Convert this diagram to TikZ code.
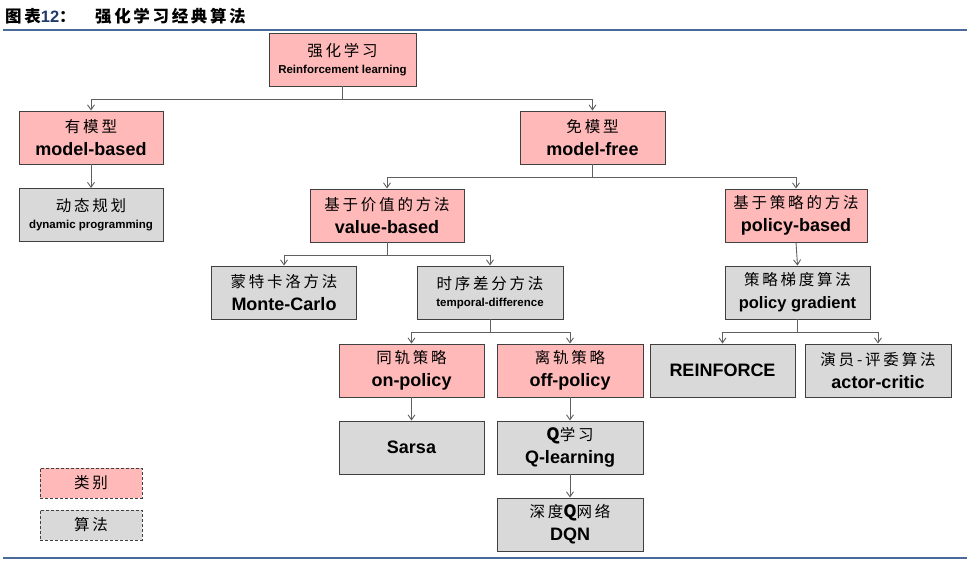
\documentclass[tikz,border=0pt]{standalone}
\usepackage{fontspec}
\setmainfont{Liberation Sans}
\newfontfamily\cjk[LetterSpace=18]{Noto Sans CJK SC}
\newfontfamily\cjkt[LetterSpace=16]{Noto Sans CJK SC}
\newfontfamily\cjkn{Noto Sans CJK SC}
\usetikzlibrary{arrows.meta}
\definecolor{pinkfill}{HTML}{FFB9B9}
\definecolor{grayfill}{HTML}{D9D9D9}
\definecolor{boxline}{HTML}{404040}
\definecolor{connline}{HTML}{606060}
\definecolor{rulecol}{HTML}{4A6A9A}
\definecolor{titleblue}{HTML}{1F3A6B}
\newcommand\zh[1]{{\cjk\fontsize{15.5}{18}\selectfont #1}}
\newcommand\enbig[1]{{\bfseries\fontsize{18}{20}\selectfont #1}}
\newcommand\enmid[1]{{\bfseries\fontsize{16.5}{19}\selectfont #1}}
\newcommand\ensm[1]{{\bfseries\fontsize{11.5}{13}\selectfont #1}}
\tikzset{
  boxbase/.style={draw=boxline, line width=0.9pt, minimum width=145pt, minimum height=53pt, inner sep=0pt, align=center},
  catbox/.style={boxbase, fill=pinkfill},
  algbox/.style={boxbase, fill=grayfill},
  bigtext/.style={font=\fontsize{15.5}{23}\selectfont},
  smalltext/.style={font=\fontsize{15.5}{17}\selectfont},
  legbox/.style={draw=boxline, line width=0.9pt, dash pattern=on 3pt off 2pt, minimum width=102pt, minimum height=30pt, inner sep=0pt},
  conn/.style={draw=connline, line width=0.9pt, -{Straight Barb[length=5pt,width=7pt]}},
  rulestyle/.style={draw=rulecol, line width=1.8pt}
}
\begin{document}
\begin{tikzpicture}[x=1pt,y=-1pt]
\useasboundingbox (0,0) rectangle (970,570);
% title
\node[anchor=west, inner sep=0pt] (ttl1) at (5,16) {{\cjkt\bfseries\fontsize{16.5}{18}\selectfont 图表}{\bfseries\fontsize{16.5}{18}\selectfont\textcolor{titleblue}{12}}{\cjkn\bfseries\fontsize{16.5}{18}\selectfont ：}};
\node[anchor=west, inner sep=0pt] (ttl2) at (95,16) {\cjkt\bfseries\fontsize{16.5}{18}\selectfont 强化学习经典算法};
\coordinate (r1a) at (3,30);
\coordinate (r1b) at (967,30);
\draw[rulestyle] (r1a) -- (r1b);
\coordinate (r2a) at (3,558);
\coordinate (r2b) at (967,558);
\draw[rulestyle] (r2a) -- (r2b);

% boxes
\node[catbox, smalltext, minimum width=147pt] (root) at (342.5,59.5) {\zh{强化学习}\\\ensm{Reinforcement learning}};
\node[catbox, bigtext, minimum width=144pt] (mb) at (91,137.5) {\zh{有模型}\\\enbig{model-based}};
\node[catbox, bigtext] (mf) at (592.5,137.5) {\zh{免模型}\\\enbig{model-free}};
\node[algbox, smalltext, minimum width=144pt] (dp) at (91,215) {\zh{动态规划}\\\ensm{dynamic programming}};
\node[catbox, bigtext, minimum width=154pt] (vb) at (387,215.5) {\zh{基于价值的方法}\\\enbig{value-based}};
\node[catbox, bigtext, minimum width=142pt] (pb) at (796,215.5) {\zh{基于策略的方法}\\\enbig{policy-based}};
\node[algbox, bigtext] (mc) at (284,292.5) {\zh{蒙特卡洛方法}\\\enbig{Monte-Carlo}};
\node[algbox, smalltext, minimum width=146pt] (td) at (490,292.5) {\zh{时序差分方法}\\\ensm{temporal-difference}};
\node[algbox, bigtext] (pg) at (797.5,292.5) {\zh{策略梯度算法}\\\enmid{policy gradient}};
\node[catbox, bigtext] (onp) at (411.5,370.5) {\zh{同轨策略}\\\enbig{on-policy}};
\node[catbox, bigtext, minimum width=146pt] (offp) at (570,370.5) {\zh{离轨策略}\\\enbig{off-policy}};
\node[algbox] (rf) at (722.5,370.5) {\enbig{REINFORCE}};
\node[algbox, bigtext, minimum width=146pt] (ac) at (878,370.5) {\zh{演员-评委算法}\\\enbig{actor-critic}};
\node[algbox] (sarsa) at (411.5,447.5) {\enbig{Sarsa}};
\node[algbox, bigtext, minimum width=146pt] (ql) at (570,447.5) {\zh{{\bfseries\fontsize{17}{18}\selectfont Q}学习}\\\enbig{Q-learning}};
\node[algbox, bigtext, minimum width=146pt] (dqn) at (570,524.5) {\zh{深度{\bfseries\fontsize{17}{18}\selectfont Q}网络}\\\enbig{DQN}};

% legend
\node[legbox, fill=pinkfill] (leg1) at (91,483) {\zh{类别}};
\node[legbox, fill=grayfill] (leg2) at (91,525) {\zh{算法}};

% connectors
\draw[conn] (root.south) -- ++(0,13) -| (mb.north);
\draw[conn] (root.south) -- ++(0,13) -| (mf.north);
\draw[conn] (mb.south) -- (dp.north);
\draw[conn] (mf.south) -- ++(0,12.5) -| (vb.north);
\draw[conn] (mf.south) -- ++(0,12.5) -| (pb.north);
\draw[conn] (vb.south) -- ++(0,12.5) -| (mc.north);
\draw[conn] (vb.south) -- ++(0,12.5) -| (td.north);
\draw[conn] (td.south) -- ++(0,12.5) -| (onp.north);
\draw[conn] (td.south) -- ++(0,12.5) -| (offp.north);
\draw[conn] (pg.south) -- ++(0,12.5) -| (rf.north);
\draw[conn] (pg.south) -- ++(0,12.5) -| (ac.north);
\draw[conn] (pb.south) -- (pg.north);
\draw[conn] (onp.south) -- (sarsa.north);
\draw[conn] (offp.south) -- (ql.north);
\draw[conn] (ql.south) -- (dqn.north);
\end{tikzpicture}
\end{document}
